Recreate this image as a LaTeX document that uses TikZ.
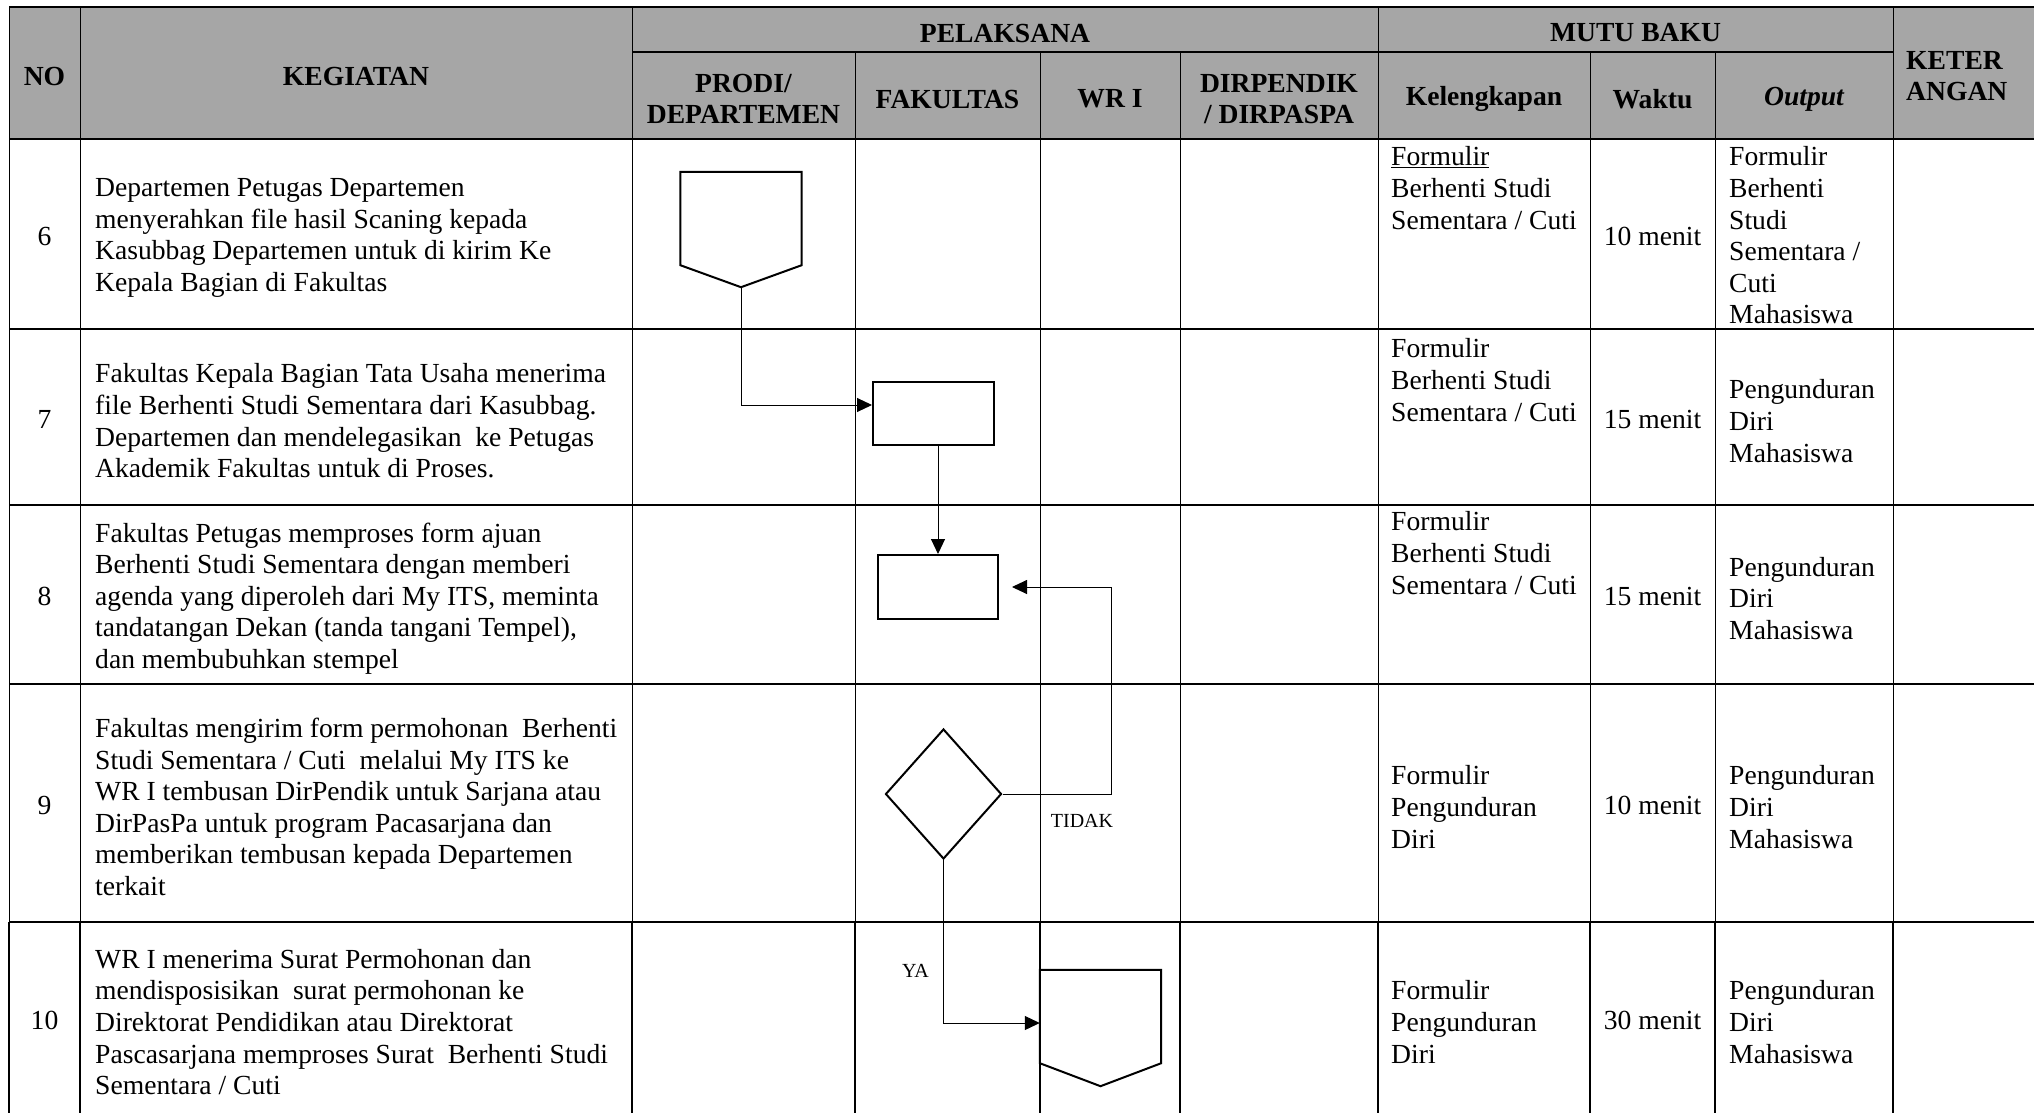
\documentclass[tikz,border=0pt]{standalone}
\usepackage{fontspec}
\setmainfont{Liberation Serif}
\usetikzlibrary{shapes.geometric,arrows.meta}

\definecolor{headgray}{RGB}{166,166,166}
\newcommand{\cellfont}{\fontsize{27.6}{31.6}\selectfont}
\newcommand{\yesnofont}{\fontsize{20}{24}\selectfont}

\begin{document}
\begin{tikzpicture}[x=1pt,y=-1pt]
        \tikzstyle{head}=[font=\cellfont\bfseries,align=center,inner sep=0pt,yshift=-3pt]
        \tikzstyle{txt}=[font=\cellfont,align=left,anchor=west,inner sep=0pt,yshift=-4pt]
        \tikzstyle{toptxt}=[font=\cellfont,align=left,anchor=north west,inner sep=0pt]
        \tikzstyle{centertxt}=[font=\cellfont,align=center,inner sep=0pt,yshift=-2pt]
        \tikzstyle{yesno}=[font=\yesnofont,inner sep=0pt]
        \tikzstyle{heavyrule}=[line width=2.2pt]
        \tikzstyle{rule}=[line width=0.9pt]
        \tikzstyle{lastrule}=[line width=1.4pt]
        \tikzstyle{outline}=[line width=2pt,line join=miter]
        \tikzstyle{box}=[rectangle,draw=black,outline,fill=white,inner sep=0pt]
        \tikzstyle{offpage}=[rectangle,inner sep=0pt,minimum width=121pt,minimum height=93pt]
        \tikzstyle{flow}=[line width=1pt,-{Triangle[length=15pt,width=14pt]}]
        \useasboundingbox (0,0) rectangle (2034,1113);
        \fill[headgray] (9,7) rectangle (2034,139);
        % table rules
        \draw[rule] (9,7) -- (9,922) (80,7) -- (80,922) (632,7) -- (632,922) (1378,7) -- (1378,922) (1893,7) -- (1893,922)
                    (855,52) -- (855,922) (1040,52) -- (1040,922) (1180,52) -- (1180,922) (1590,52) -- (1590,922) (1715,52) -- (1715,922);
        \draw[lastrule] (9,922) -- (9,1113) (80,922) -- (80,1113) (632,922) -- (632,1113) (855,922) -- (855,1113) (1040,922) -- (1040,1113)
                    (1180,922) -- (1180,1113) (1378,922) -- (1378,1113) (1590,922) -- (1590,1113) (1715,922) -- (1715,1113) (1893,922) -- (1893,1113);
        \draw[heavyrule] (9,7) -- (2034,7) (632,52) -- (1893,52) (9,139) -- (2034,139) (9,329) -- (2034,329)
                    (9,505) -- (2034,505) (9,684) -- (2034,684) (9,922) -- (2034,922);
        % header
        \node[head] (hNo) at (44.5,73) {NO};
        \node[head] (hKeg) at (356,73) {KEGIATAN};
        \node[head] (hPel) at (1005,30) {PELAKSANA};
        \node[head] (hMutu) at (1635.5,30) {MUTU BAKU};
        \node[head] (hProdi) at (743.5,96) {PRODI/\\DEPARTEMEN};
        \node[head] (hFak) at (947.5,96) {FAKULTAS};
        \node[head] (hWr) at (1110,96) {WR I};
        \node[head] (hDir) at (1279,96) {DIRPENDIK\\/ DIRPASPA};
        \node[head] (hKel) at (1484,96) {Kelengkapan};
        \node[head] (hWkt) at (1652.5,96) {Waktu};
        \node[head] (hOut) at (1804,96) {\itshape Output};
        \node[head,align=left,anchor=west] (hKet) at (1906,73) {KETER\\ANGAN};
        % row 6
        \node[centertxt] (no6) at (44.5,234) {6};
        \node[txt] (keg6) at (95,234) {Departemen Petugas Departemen\\menyerahkan file hasil Scaning kepada\\Kasubbag Departemen untuk di kirim Ke\\Kepala Bagian di Fakultas};
        \node[toptxt] (kel6) at (1391,146.5) {\underline{Formulir}\\Berhenti Studi\\Sementara / Cuti};
        \node[centertxt] (wkt6) at (1652.5,234) {10 menit};
        \node[toptxt] (out6) at (1729,146.5) {Formulir\\Berhenti\\Studi\\Sementara /\\Cuti\\Mahasiswa};
        % row 7
        \node[centertxt] (no7) at (44.5,417) {7};
        \node[txt] (keg7) at (95,417) {Fakultas Kepala Bagian Tata Usaha menerima\\file Berhenti Studi Sementara dari Kasubbag.\\Departemen dan mendelegasikan\ \ ke Petugas\\Akademik Fakultas untuk di Proses.};
        \node[toptxt] (kel7) at (1391,338.5) {Formulir\\Berhenti Studi\\Sementara / Cuti};
        \node[centertxt] (wkt7) at (1652.5,417) {15 menit};
        \node[txt] (out7) at (1729,417) {Pengunduran\\Diri\\Mahasiswa};
        % row 8
        \node[centertxt] (no8) at (44.5,594.5) {8};
        \node[txt] (keg8) at (95,594.5) {Fakultas Petugas memproses form ajuan\\Berhenti Studi Sementara dengan memberi\\agenda yang diperoleh dari My ITS, meminta\\tandatangan Dekan (tanda tangani Tempel),\\dan membubuhkan stempel};
        \node[toptxt] (kel8) at (1391,511.5) {Formulir\\Berhenti Studi\\Sementara / Cuti};
        \node[centertxt] (wkt8) at (1652.5,594.5) {15 menit};
        \node[txt] (out8) at (1729,594.5) {Pengunduran\\Diri\\Mahasiswa};
        % row 9
        \node[centertxt] (no9) at (44.5,803) {9};
        \node[txt] (keg9) at (95,803) {Fakultas mengirim form permohonan\ \ Berhenti\\Studi Sementara / Cuti\ \ melalui My ITS ke\\WR I tembusan DirPendik untuk Sarjana atau\\DirPasPa untuk program Pacasarjana dan\\memberikan tembusan kepada Departemen\\terkait};
        \node[txt] (kel9) at (1391,803) {Formulir\\Pengunduran\\Diri};
        \node[centertxt] (wkt9) at (1652.5,803) {10 menit};
        \node[txt] (out9) at (1729,803) {Pengunduran\\Diri\\Mahasiswa};
        % row 10
        \node[centertxt] (no10) at (44.5,1018) {10};
        \node[txt] (keg10) at (95,1018) {WR I menerima Surat Permohonan dan\\mendisposisikan\ \ surat permohonan ke\\Direktorat Pendidikan atau Direktorat\\Pascasarjana memproses Surat\ \ Berhenti Studi\\Sementara / Cuti};
        \node[txt] (kel10) at (1391,1018) {Formulir\\Pengunduran\\Diri};
        \node[centertxt] (wkt10) at (1652.5,1018) {30 menit};
        \node[txt] (out10) at (1729,1018) {Pengunduran\\Diri\\Mahasiswa};
        % flow
        \node[offpage] (p1) at (741,218.5) {};
        \coordinate (p1tip) at ([yshift=-22pt]p1.south);
        \draw[outline,fill=white] (p1.south west) -- (p1.north west) -- (p1.north east) -- (p1.south east) -- (p1tip) -- cycle;
        \node[box,minimum width=121pt,minimum height=63pt] (r1) at (933.5,413.5) {};
        \node[box,minimum width=120pt,minimum height=64pt] (r2) at (938,587) {};
        \node[diamond,draw=black,outline,fill=white,inner sep=0pt,minimum width=116pt,minimum height=130pt] (d1) at (943.5,794) {};
        \node[offpage] (p2) at (1100.5,1016.5) {};
        \coordinate (p2tip) at ([yshift=-23pt]p2.south);
        \draw[outline,fill=white] (p2.south west) -- (p2.north west) -- (p2.north east) -- (p2.south east) -- (p2tip) -- cycle;
        \draw[flow] (p1tip) |- ([yshift=8.5pt]r1.west);
        \draw[flow] (r2.north |- r1.south) -- (r2.north);
        \draw[flow,shorten >=13pt] (d1.east) -- ++(109,0) |- (r2.east);
        \draw[flow] (d1.south) |- ([yshift=-6.5pt]p2.west);
        \node[yesno] (tidak) at (1082,821) {TIDAK};
        \node[yesno] (ya) at (915.5,971) {YA};
    \end{tikzpicture}
\end{document}
